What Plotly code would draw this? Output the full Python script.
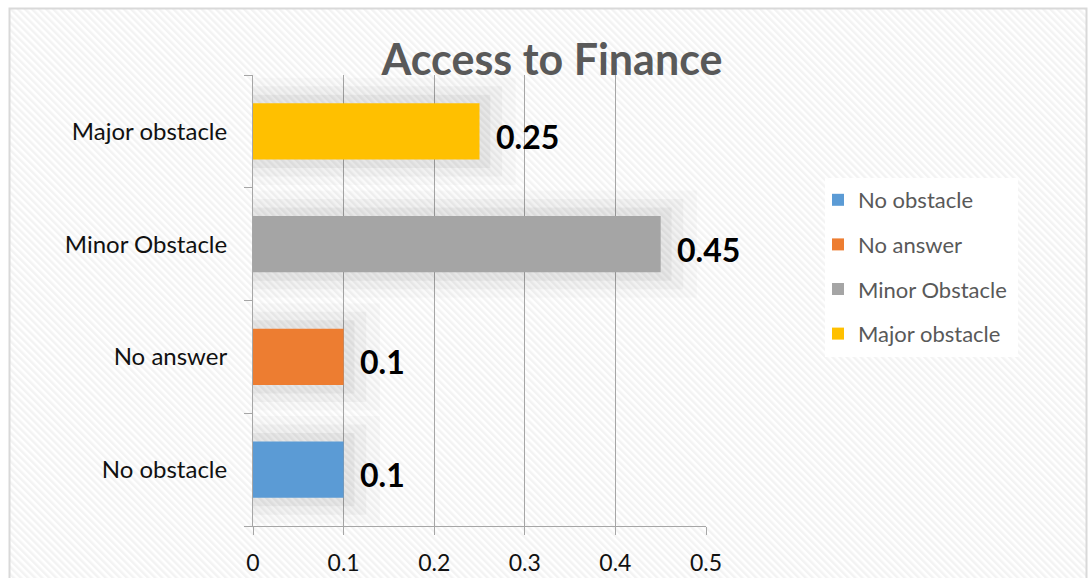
import base64
import plotly.graph_objects as go

categories = ["No obstacle", "No answer", "Minor Obstacle", "Major obstacle"]
values = [0.1, 0.1, 0.45, 0.25]
colors = ["#5B9BD5", "#ED7D31", "#A5A5A5", "#FFC000"]
x_ticks = [0, 0.1, 0.2, 0.3, 0.4, 0.5]

W, H = 1088, 578
L, R, T, B = 253, 382, 75, 52
pw, ph = W - L - R, H - T - B

FONT = "Lato, 'Open Sans', sans-serif"

svg = f'''<svg xmlns="http://www.w3.org/2000/svg" width="{W}" height="{H}">
<defs><pattern id="p" width="5" height="5" patternUnits="userSpaceOnUse" patternTransform="rotate(-45)">
<rect width="5" height="5" fill="#ffffff"/><rect width="2.5" height="5" fill="#f3f3f3"/></pattern></defs>
<rect x="9.5" y="8.5" width="{W-11}" height="{H}" fill="url(#p)" stroke="#d9d9d9" stroke-width="2"/>
<rect x="825" y="178" width="193" height="179" fill="#ffffff"/>
</svg>'''
src = "data:image/svg+xml;base64," + base64.b64encode(svg.encode()).decode()

fig = go.Figure()

# soft shadows behind bars
for w, a, ext in [(0.95, 0.02, 0.04), (0.8, 0.03, 0.025), (0.65, 0.045, 0.012)]:
    fig.add_trace(go.Bar(
        y=categories, x=[v + ext for v in values], orientation="h", width=w,
        marker=dict(color=f"rgba(0,0,0,{a})", line=dict(width=0)),
        showlegend=False, hoverinfo="skip"))

for i, (c, v, col) in enumerate(zip(categories, values, colors)):
    fig.add_trace(go.Bar(
        y=[c], x=[v], orientation="h", width=0.5, name=c,
        marker=dict(color=col, line=dict(width=0)), legendgroup=f"g{i}"))

for c, v in zip(categories, values):
    fig.add_annotation(x=v, y=c, text=f"{v:g}", showarrow=False, xanchor="left",
                       xshift=14, yshift=-5,
                       font=dict(family=FONT, size=32, color="#000000", weight="bold"))

fig.update_layout(
    width=W, height=H, barmode="overlay",
    margin=dict(l=L, r=R, t=T, b=B, autoexpand=False),
    paper_bgcolor="#ffffff", plot_bgcolor="rgba(0,0,0,0)",
    title=dict(text="<b>Access to Finance</b>", x=552 / W, xanchor="center",
               y=1 - 60 / H, yanchor="middle", yref="container",
               font=dict(family=FONT, size=43, color="#595959")),
    font=dict(family=FONT, size=24, color="#111111"),
    xaxis=dict(range=[0, 0.5], tickvals=x_ticks, ticktext=[f"{t:g}" for t in x_ticks],
               showgrid=True, gridcolor="#a6a6a6", gridwidth=1,
               showline=True, linecolor="#a6a6a6", linewidth=1, automargin=False,
               ticks="outside", ticklen=8, tickcolor="#a6a6a6", ticklabelstandoff=8,
               zeroline=False, tickfont=dict(size=23, color="#111111"), fixedrange=True),
    yaxis=dict(categoryorder="array", categoryarray=categories, range=[-0.5, 3.5],
               showline=True, linecolor="#a6a6a6", linewidth=1, automargin=False,
               ticks="outside", ticklen=8, tickcolor="#a6a6a6", tickson="boundaries",
               ticklabelstandoff=20,
               showgrid=False, tickfont=dict(size=24, color="#111111")),
    legend=dict(x=(818 - L) / pw, xanchor="left", y=(H - B - 179) / ph, yanchor="top",
                bgcolor="rgba(0,0,0,0)", font=dict(size=22, color="#595959"),
                tracegroupgap=13, traceorder="grouped"),
    images=[dict(source=src, xref="paper", yref="paper", x=-L / pw, y=1 + T / ph,
                 sizex=W / pw, sizey=H / ph, xanchor="left", yanchor="top",
                 sizing="stretch", layer="below")],
)

fig.write_html("out.html")
